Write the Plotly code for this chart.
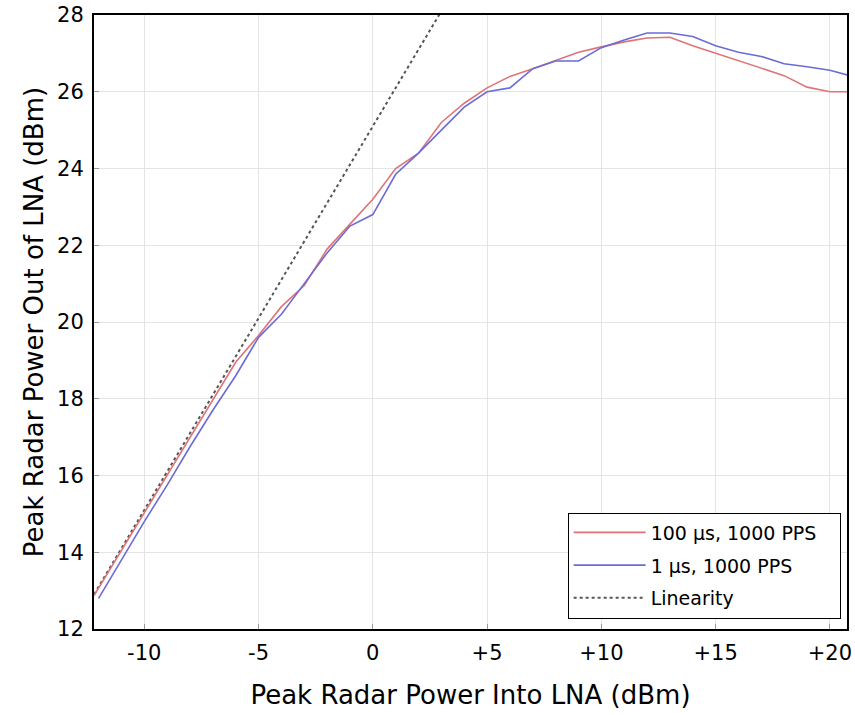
import plotly.graph_objects as go

# Data
x_red = [-12.2, -11, -10, -9, -8, -7, -6, -5, -4, -3, -2, -1, 0, 1, 2, 3, 4, 5, 6, 7, 8, 9, 10,
         11, 12, 13, 14, 15, 16, 17, 18, 19, 20, 21]
y_red = [12.87, 14.05, 15.05, 16.0, 17.0, 18.0, 18.95, 19.65, 20.4, 20.95, 21.9, 22.55, 23.2, 24.0,
         24.4, 25.2, 25.7, 26.1, 26.4, 26.6, 26.82, 27.03, 27.17, 27.3, 27.4, 27.42, 27.2, 27.0,
         26.8, 26.6, 26.42, 26.12, 26.0, 26.0]

x_blue = [-12, -11, -10, -9, -8, -7, -6, -5, -4, -3, -2, -1, 0, 1, 2, 3, 4, 5, 6, 7, 8, 9, 10,
          11, 12, 13, 14, 15, 16, 17, 18, 19, 20, 21]
y_blue = [12.8, 13.8, 14.8, 15.75, 16.75, 17.7, 18.6, 19.6, 20.2, 21.0, 21.8, 22.5, 22.8, 23.85,
          24.4, 25.0, 25.6, 26.0, 26.1, 26.6, 26.8, 26.8, 27.15, 27.35, 27.53, 27.53, 27.44, 27.2,
          27.03, 26.92, 26.73, 26.65, 26.56, 26.4]

x_lin = [-13, 3]
y_lin = [12.1, 28.1]

x_ticks = [-10, -5, 0, 5, 10, 15, 20]
x_tick_text = ["-10", "-5", "0", "+5", "+10", "+15", "+20"]
y_ticks = [12, 14, 16, 18, 20, 22, 24, 26, 28]

names = ["100 \u00b5s, 1000 PPS\u00a0\u00a0\u00a0", "1 \u00b5s, 1000 PPS", "Linearity"]

FONT = "DejaVu Sans"

fig = go.Figure()
fig.add_trace(go.Scatter(x=x_lin, y=y_lin, mode="lines", name=names[2], legendrank=3,
                         legendgroup="c",
                         line=dict(color="#555555", width=2, dash="dot"), showlegend=True))
fig.add_trace(go.Scatter(x=x_red, y=y_red, mode="lines", name=names[0], legendrank=1,
                         legendgroup="a",
                         line=dict(color="#de7478", width=1.6)))
fig.add_trace(go.Scatter(x=x_blue, y=y_blue, mode="lines", name=names[1], legendrank=2,
                         legendgroup="b",
                         line=dict(color="#6b6bd6", width=1.6)))

axis_common = dict(
    showline=True, linecolor="black", linewidth=2, mirror=True,
    showgrid=True, gridcolor="#e4e4e4", gridwidth=1,
    ticks="inside", ticklen=5, tickcolor="#999999", tickwidth=1,
    zeroline=False,
    tickfont=dict(family=FONT, size=21, color="black"),
)

fig.update_layout(
    width=855, height=715,
    margin=dict(l=94, r=3, t=14, b=86),
    paper_bgcolor="white", plot_bgcolor="white",
    font=dict(family=FONT, color="black"),
    showlegend=True,
    legend=dict(
        x=0.629, y=0.017, xanchor="left", yanchor="bottom",
        bgcolor="white", bordercolor="black", borderwidth=1,
        font=dict(family=FONT, size=19, color="black"),
        tracegroupgap=5, traceorder="grouped",
        itemwidth=72,
    ),
    xaxis=dict(
        range=[-12.2, 20.75], tickvals=x_ticks, ticktext=x_tick_text,
        ticklabelstandoff=4,
        title=dict(text="Peak Radar Power Into LNA (dBm)", font=dict(family=FONT, size=26),
                   standoff=22),
        **axis_common,
    ),
    yaxis=dict(
        range=[12, 28], tickvals=y_ticks,
        ticklabelstandoff=4,
        title=dict(text="Peak Radar Power Out of LNA (dBm)", font=dict(family=FONT, size=26),
                   standoff=6),
        **axis_common,
    ),
)

fig.write_html("out.html")
